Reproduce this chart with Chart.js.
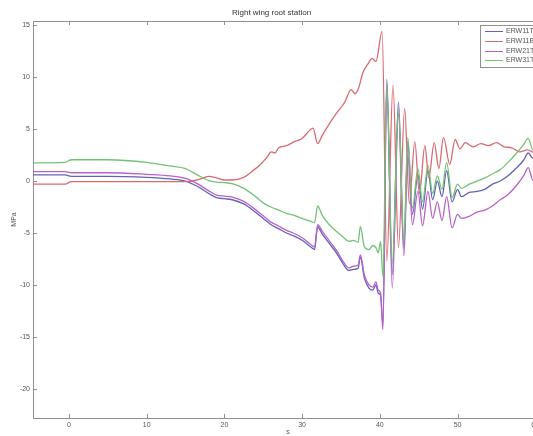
<!DOCTYPE html>
<html>
<head>
<meta charset="utf-8">
<title>Right wing root station</title>
<script src="https://cdn.jsdelivr.net/npm/chart.js@4"></script>
<style>
    html, body { margin: 0; padding: 0; overflow: hidden; background: #fff; }
</style>
</head>
<body>
<canvas id="stress" width="580" height="436"></canvas>
<script>
// axis ticks
const xTicks = [0, 10, 20, 30, 40, 50, 60];
const yTicks = [-20, -15, -10, -5, 0, 5, 10, 15];

const gaugeNames = ['ERW11T', 'ERW11B', 'ERW21T', 'ERW31T'];
const gaugeColors = ['#6262b8', '#d96a72', '#b862c8', '#74c274'];

// time base (s) shared by ERW11T, ERW21T, ERW31T
const tTop = [
    -4.6, -0.5, 0.3, 5, 10, 13, 15, 16.5, 18, 19,
    20, 21, 22.5, 24, 25, 26, 27, 28, 29, 30,
    31.2, 31.6, 32.0, 32.6, 33.5, 34.5, 35.3, 36.0, 36.6, 37.2,
    37.5, 38.0, 38.6, 39.1, 39.5, 39.8, 40.1, 40.4, 40.9, 41.6,
    42.4, 43.1, 43.6, 44.2, 44.9, 45.5, 46.2, 46.8, 47.4, 48.0,
    48.6, 49.3, 50.0, 50.5, 51.5, 52.5, 53.5, 54.5, 55.5, 56.5,
    57.5, 58.5, 59.1, 59.7, 61
];
const erw11t = [
    0.6, 0.6, 0.45, 0.45, 0.35, 0.2, 0.0, -0.5, -1.2, -1.6,
    -1.7, -1.8, -2.2, -3.0, -3.6, -4.2, -4.6, -5.0, -5.3, -5.7,
    -6.4, -6.6, -4.4, -5.1, -6.0, -7.0, -8.0, -8.6, -8.5, -8.4,
    -7.3, -9.3, -10.3, -10.5, -10.0, -10.8, -11.0, -13.8, 9.8, -9.0,
    7.6, -6.5, 3.8, -3.2, 0.6, -2.7, 1.0, -1.8, 0.0, -1.5,
    1.0, -2.0, -0.8, -1.5, -1.1, -1.0, -0.8, -0.3, 0.0, 0.5,
    1.2, 2.0, 2.7, 2.2, 2.6
];
const erw21t = [
    0.9, 0.9, 0.8, 0.8, 0.65, 0.5, 0.25, -0.25, -0.95, -1.35,
    -1.45, -1.55, -1.95, -2.75, -3.35, -3.95, -4.35, -4.75, -5.05, -5.45,
    -6.15, -6.35, -4.2, -4.85, -5.75, -6.75, -7.75, -8.35, -8.2, -8.1,
    -7.1, -9.0, -10.0, -10.2, -9.7, -10.5, -10.8, -14.3, 9.3, -10.3,
    6.5, -7.2, 2.5, -4.2, -1.0, -4.3, -1.0, -3.6, -2.0, -3.8,
    -1.5, -4.5, -3.2, -3.6, -3.4, -3.0, -2.8, -2.4, -1.8, -1.3,
    -0.5, 0.5, 1.3, 0.1, 0.7
];
const erw31t = [
    1.75, 1.8, 2.05, 2.05, 1.8, 1.45, 1.2, 0.6, 0.05, -0.1,
    -0.15, -0.25, -0.7, -1.5, -2.1, -2.5, -2.8, -3.1, -3.3, -3.6,
    -3.9, -4.0, -2.4, -3.3, -4.2, -4.9, -5.4, -5.8, -5.7, -5.9,
    -4.4, -6.3, -6.6, -6.2, -6.4, -6.9, -5.8, -9.2, 9.2, -8.0,
    7.0, -5.8, 4.2, -2.6, 1.2, -2.0, 1.5, -1.2, 0.5, -0.8,
    1.8, -1.6, -0.3, -0.7, -0.3, 0.0, 0.3, 0.7, 1.1, 1.8,
    2.6, 3.5, 4.1, 3.0, 3.5
];

// time base (s) for ERW11B
const tBottom = [
    -4.6, -0.5, 0.3, 10, 15, 16.5, 18, 19, 20, 21,
    22.5, 23.5, 24.5, 25.5, 26, 26.5, 27, 28, 29, 30,
    31, 31.4, 32.0, 32.6, 33.5, 34.5, 35.5, 36.3, 36.8, 37.3,
    37.8, 38.5, 39.0, 39.5, 40.3, 40.9, 41.7, 42.4, 43.2, 43.8,
    44.5, 45.1, 45.8, 46.3, 47.0, 47.6, 48.2, 49.0, 49.7, 50.3,
    51, 52, 53, 54, 55, 56, 57, 58, 59, 60,
    61
];
const erw11b = [
    -0.3, -0.3, -0.05, -0.05, -0.05, 0.1, 0.45, 0.3, 0.1, 0.1,
    0.35, 0.9, 1.5, 2.3, 2.8, 2.7, 3.2, 3.4, 3.8, 4.1,
    4.9, 5.1, 3.6, 4.4, 5.5, 6.6, 7.6, 8.8, 8.4, 9.0,
    10.4, 11.3, 11.8, 11.5, 14.4, -7.7, 9.2, -6.4, 7.0, -2.2,
    3.8, -1.2, 3.4, 0.3, 3.7, 1.2, 4.2, 1.6, 4.0, 3.1,
    3.7, 3.3, 3.6, 3.4, 3.7, 3.3, 3.2, 2.8, 3.0, 2.7,
    2.9
];

const toPoints = (t, v) => t.map((x, i) => ({ x: x, y: v[i] }));
const series = [
    toPoints(tTop, erw11t),
    toPoints(tBottom, erw11b),
    toPoints(tTop, erw21t),
    toPoints(tTop, erw31t),
];

const axisColor = '#909090';
const textColor = '#555';
const fontFamily = '"Liberation Sans", Arial, sans-serif';

// box around the axes with ticks pointing inwards, on all four sides
const innerTicks = {
    id: 'innerTicks',
    afterDraw(chart) {
        const { ctx, chartArea: a, scales } = chart;
        const len = 4;
        ctx.save();
        ctx.strokeStyle = axisColor;
        ctx.lineWidth = 1;
        ctx.beginPath();
        ctx.moveTo(a.left, a.top + 0.5);
        ctx.lineTo(a.right, a.top + 0.5);
        ctx.moveTo(a.right - 0.5, a.top);
        ctx.lineTo(a.right - 0.5, a.bottom);
        xTicks.forEach(v => {
            const px = Math.round(scales.x.getPixelForValue(v)) + 0.5;
            ctx.moveTo(px, a.bottom);
            ctx.lineTo(px, a.bottom - len);
            ctx.moveTo(px, a.top);
            ctx.lineTo(px, a.top + len);
        });
        yTicks.forEach(v => {
            const py = Math.round(scales.y.getPixelForValue(v)) + 0.5;
            ctx.moveTo(a.left, py);
            ctx.lineTo(a.left + len, py);
            ctx.moveTo(a.right, py);
            ctx.lineTo(a.right - len, py);
        });
        ctx.stroke();
        ctx.restore();
    }
};

// legend box in the upper right corner of the axes
const cornerLegend = {
    id: 'cornerLegend',
    afterDraw(chart) {
        const { ctx, chartArea: a } = chart;
        const w = 58, h = 42;
        const x0 = a.right - w - 5, y0 = a.top + 4;
        ctx.save();
        ctx.fillStyle = '#fff';
        ctx.fillRect(x0, y0, w, h);
        ctx.strokeStyle = axisColor;
        ctx.lineWidth = 1;
        ctx.strokeRect(x0 + 0.5, y0 + 0.5, w, h);
        ctx.font = '7px ' + fontFamily;
        ctx.textBaseline = 'middle';
        chart.data.datasets.forEach((ds, i) => {
            const y = Math.round(y0 + 6 + i * 9.8) + 0.5;
            ctx.strokeStyle = ds.borderColor;
            ctx.beginPath();
            ctx.moveTo(x0 + 5, y);
            ctx.lineTo(x0 + 23, y);
            ctx.stroke();
            ctx.fillStyle = textColor;
            ctx.fillText(ds.label, x0 + 26, y);
        });
        ctx.restore();
    }
};

new Chart(document.getElementById('stress'), {
    type: 'line',
    data: {
        datasets: series.map((pts, i) => ({
            label: gaugeNames[i],
            data: pts,
            borderColor: gaugeColors[i],
            borderWidth: 1.3,
            pointRadius: 0,
            cubicInterpolationMode: 'monotone',
            order: 3 - i,
        })),
    },
    options: {
        responsive: false,
        animation: false,
        layout: { padding: { left: 0, right: 37, bottom: 0 } },
        plugins: {
            legend: { display: false },
            tooltip: { enabled: false },
            title: {
                display: true,
                text: 'Right wing root station',
                color: '#333',
                font: { family: fontFamily, size: 8, weight: 'normal' },
                padding: { top: 8, bottom: 3.4 },
            },
        },
        scales: {
            x: {
                type: 'linear',
                min: -4.63,
                max: 61,
                grid: { display: false, drawTicks: false, tickLength: 0 },
                border: { display: true, color: axisColor },
                afterBuildTicks: s => { s.ticks = xTicks.map(v => ({ value: v })); },
                afterFit: s => { s.height = 18; },
                ticks: {
                    color: textColor,
                    padding: 3,
                    maxRotation: 0,
                    font: { family: fontFamily, size: 7 },
                },
                title: {
                    display: true,
                    text: 's',
                    color: textColor,
                    font: { family: fontFamily, size: 7 },
                    padding: { top: 0, bottom: 0 },
                },
            },
            y: {
                type: 'linear',
                min: -22.8,
                max: 15.4,
                grid: { display: false, drawTicks: false, tickLength: 0 },
                border: { display: true, color: axisColor },
                afterBuildTicks: s => { s.ticks = yTicks.map(v => ({ value: v })); },
                afterFit: s => { s.width = 33; },
                ticks: {
                    color: textColor,
                    padding: 3,
                    font: { family: fontFamily, size: 7 },
                },
                title: {
                    display: true,
                    text: 'MPa',
                    color: textColor,
                    font: { family: fontFamily, size: 7 },
                    padding: { top: 10, bottom: 0 },
                },
            },
        },
    },
    plugins: [innerTicks, cornerLegend],
});
</script>
</body>
</html>
